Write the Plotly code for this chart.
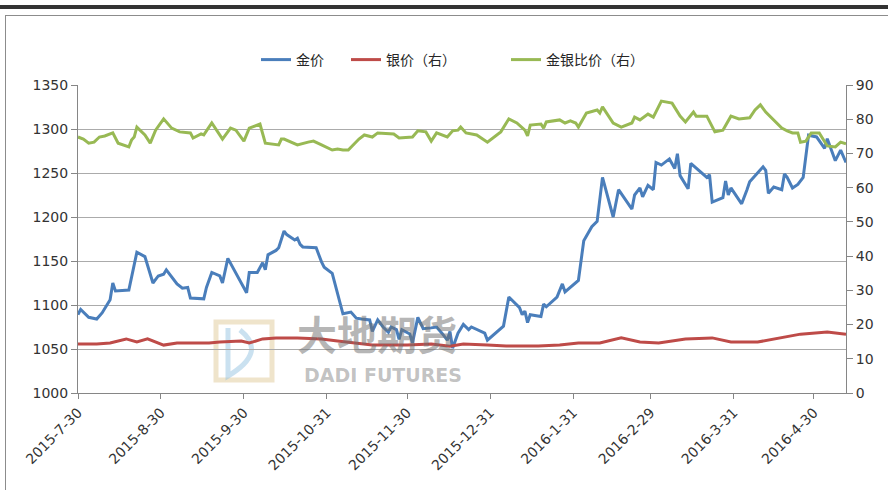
import plotly.graph_objects as go

# 金价 (left axis)
gold_dates = [
    "2015-07-30", "2015-07-31", "2015-08-03", "2015-08-06", "2015-08-08", "2015-08-11", "2015-08-12",
    "2015-08-13", "2015-08-18", "2015-08-20", "2015-08-21", "2015-08-24", "2015-08-27", "2015-08-29",
    "2015-08-31", "2015-09-01", "2015-09-05", "2015-09-07", "2015-09-09", "2015-09-10", "2015-09-15",
    "2015-09-16", "2015-09-18", "2015-09-21", "2015-09-22", "2015-09-24", "2015-09-28", "2015-10-01",
    "2015-10-02", "2015-10-05", "2015-10-07", "2015-10-08", "2015-10-09", "2015-10-12", "2015-10-13",
    "2015-10-15", "2015-10-16", "2015-10-19", "2015-10-20", "2015-10-21", "2015-10-22", "2015-10-27",
    "2015-10-29", "2015-10-30", "2015-11-02", "2015-11-04", "2015-11-05", "2015-11-06", "2015-11-09",
    "2015-11-11", "2015-11-13", "2015-11-16", "2015-11-17", "2015-11-19", "2015-11-21", "2015-11-23",
    "2015-11-24", "2015-11-26", "2015-11-27", "2015-11-28", "2015-12-01", "2015-12-02", "2015-12-04",
    "2015-12-06", "2015-12-09", "2015-12-11", "2015-12-13", "2015-12-15", "2015-12-16", "2015-12-17",
    "2015-12-19", "2015-12-21", "2015-12-23", "2015-12-24", "2015-12-29", "2015-12-30", "2016-01-05",
    "2016-01-07", "2016-01-11", "2016-01-12", "2016-01-13", "2016-01-14", "2016-01-15", "2016-01-19",
    "2016-01-20", "2016-01-21", "2016-01-25", "2016-01-27", "2016-01-28", "2016-02-02", "2016-02-04",
    "2016-02-07", "2016-02-09", "2016-02-11", "2016-02-15", "2016-02-17", "2016-02-22", "2016-02-23",
    "2016-02-25", "2016-02-26", "2016-02-28", "2016-03-01", "2016-03-02", "2016-03-04", "2016-03-07",
    "2016-03-09", "2016-03-10", "2016-03-11", "2016-03-14", "2016-03-15", "2016-03-21", "2016-03-22",
    "2016-03-23", "2016-03-27", "2016-03-28", "2016-03-29", "2016-03-30", "2016-04-03", "2016-04-05",
    "2016-04-06", "2016-04-11", "2016-04-12", "2016-04-13", "2016-04-15", "2016-04-18", "2016-04-19",
    "2016-04-20", "2016-04-22", "2016-04-24", "2016-04-26", "2016-04-28", "2016-05-01", "2016-05-04",
    "2016-05-05", "2016-05-08", "2016-05-10", "2016-05-12",
]
gold = [
    1089, 1095, 1086, 1084, 1091, 1106, 1125,
    1116, 1117, 1145, 1160, 1155, 1125, 1133,
    1135, 1140, 1124, 1119, 1120, 1108, 1107,
    1120, 1137, 1133, 1125, 1153, 1131, 1114,
    1137, 1137, 1148, 1140, 1157, 1162, 1165,
    1184, 1180, 1174, 1176, 1169, 1166, 1165,
    1149, 1143, 1136, 1114, 1103, 1090, 1092,
    1085, 1084, 1083, 1070, 1083, 1075, 1069,
    1075, 1072, 1061, 1072, 1067, 1057, 1086,
    1073, 1074, 1075, 1068, 1060, 1070, 1051,
    1068, 1078, 1072, 1075, 1068, 1060, 1076,
    1109, 1097, 1089, 1093, 1080, 1089, 1087,
    1101, 1098, 1109, 1124, 1115, 1128, 1173,
    1189, 1195, 1245, 1200, 1231, 1209, 1225,
    1233, 1223, 1236, 1231, 1262, 1259, 1266,
    1255, 1272, 1247, 1232, 1261, 1245, 1248,
    1217, 1222, 1241, 1225, 1233, 1215, 1231,
    1240, 1257, 1253, 1227, 1234, 1231, 1249,
    1245, 1233, 1237, 1245, 1293, 1291, 1278,
    1289, 1264, 1276, 1262,
]

# 银价（右）
silver_dates = [
    "2015-07-30", "2015-08-06", "2015-08-11", "2015-08-17", "2015-08-21", "2015-08-25", "2015-08-31",
    "2015-09-05", "2015-09-17", "2015-09-21", "2015-09-29", "2015-10-02", "2015-10-07", "2015-10-12",
    "2015-10-20", "2015-10-29", "2015-11-04", "2015-11-11", "2015-11-17", "2015-11-30", "2015-12-09",
    "2015-12-16", "2015-12-21", "2015-12-30", "2016-01-06", "2016-01-18", "2016-01-26", "2016-02-02",
    "2016-02-10", "2016-02-18", "2016-02-25", "2016-03-03", "2016-03-13", "2016-03-23", "2016-03-30",
    "2016-04-09", "2016-04-20", "2016-04-25", "2016-05-05", "2016-05-12",
]
silver = [
    14.3, 14.3, 14.6, 15.8, 14.9, 15.8, 14.0,
    14.6, 14.6, 14.9, 15.2, 14.6, 15.8, 16.1,
    16.1, 15.8, 15.2, 14.6, 14.0, 14.0, 14.3,
    13.7, 14.3, 14.0, 13.7, 13.7, 14.0, 14.6,
    14.6, 16.1, 14.9, 14.6, 15.8, 16.1, 14.9,
    14.9, 16.4, 17.2, 17.8, 17.2,
]

# 金银比价（右）
ratio_dates = [
    "2015-07-30", "2015-08-01", "2015-08-03", "2015-08-05", "2015-08-07", "2015-08-09", "2015-08-12",
    "2015-08-14", "2015-08-18", "2015-08-19", "2015-08-20", "2015-08-21", "2015-08-24", "2015-08-26",
    "2015-08-28", "2015-08-31", "2015-09-03", "2015-09-06", "2015-09-10", "2015-09-11", "2015-09-14",
    "2015-09-15", "2015-09-18", "2015-09-22", "2015-09-25", "2015-09-27", "2015-09-30", "2015-10-02",
    "2015-10-06", "2015-10-08", "2015-10-13", "2015-10-14", "2015-10-15", "2015-10-20", "2015-10-24",
    "2015-10-26", "2015-10-29", "2015-11-02", "2015-11-04", "2015-11-06", "2015-11-08", "2015-11-12",
    "2015-11-14", "2015-11-17", "2015-11-19", "2015-11-25", "2015-11-27", "2015-12-02", "2015-12-04",
    "2015-12-07", "2015-12-09", "2015-12-11", "2015-12-15", "2015-12-17", "2015-12-19", "2015-12-20",
    "2015-12-22", "2015-12-26", "2015-12-30", "2016-01-04", "2016-01-07", "2016-01-10", "2016-01-13",
    "2016-01-14", "2016-01-15", "2016-01-19", "2016-01-20", "2016-01-21", "2016-01-26", "2016-01-28",
    "2016-01-30", "2016-02-01", "2016-02-02", "2016-02-05", "2016-02-09", "2016-02-10", "2016-02-11",
    "2016-02-15", "2016-02-18", "2016-02-22", "2016-02-23", "2016-02-25", "2016-02-28", "2016-03-01",
    "2016-03-04", "2016-03-08", "2016-03-11", "2016-03-13", "2016-03-16", "2016-03-17", "2016-03-21",
    "2016-03-24", "2016-03-27", "2016-03-30", "2016-04-02", "2016-04-06", "2016-04-08", "2016-04-10",
    "2016-04-12", "2016-04-14", "2016-04-18", "2016-04-20", "2016-04-22", "2016-04-24", "2016-04-25",
    "2016-04-27", "2016-04-29", "2016-05-02", "2016-05-05", "2016-05-08", "2016-05-10", "2016-05-12",
]
ratio = [
    74.8, 74.2, 73.0, 73.3, 74.8, 75.1, 76.0,
    73.0, 71.9, 73.9, 74.8, 77.7, 75.4, 73.0,
    76.8, 80.1, 77.4, 76.3, 76.0, 74.5, 75.7,
    75.4, 78.9, 74.2, 77.4, 76.8, 73.6, 77.4,
    78.6, 73.0, 72.5, 74.2, 74.2, 72.5, 73.3,
    73.6, 72.5, 71.0, 71.3, 71.0, 71.0, 74.2,
    75.4, 74.8, 76.0, 75.7, 74.5, 74.8, 76.6,
    76.3, 73.6, 76.0, 74.8, 76.6, 76.8, 77.7,
    76.0, 75.4, 73.3, 76.3, 80.1, 78.9, 76.8,
    75.1, 78.3, 78.6, 77.4, 79.2, 79.8, 78.9,
    79.5, 78.9, 77.7, 81.8, 82.7, 81.8, 83.6,
    78.9, 77.7, 78.9, 80.6, 79.8, 81.5, 80.6,
    85.3, 84.7, 80.9, 79.2, 82.1, 80.9, 80.9,
    76.3, 76.8, 80.9, 80.1, 80.4, 82.7, 84.2,
    82.1, 80.6, 77.4, 76.6, 76.0, 76.0, 73.3,
    73.6, 76.0, 76.0, 72.2, 71.9, 73.3, 72.8,
]

tick_dates = ["2015-07-30", "2015-08-30", "2015-09-30", "2015-10-31", "2015-11-30",
              "2015-12-31", "2016-01-31", "2016-02-29", "2016-03-31", "2016-04-30"]
tick_text = ["2015-7-30", "2015-8-30", "2015-9-30", "2015-10-31", "2015-11-30",
             "2015-12-31", "2016-1-31", "2016-2-29", "2016-3-31", "2016-4-30"]

font_family = "DejaVu Sans, Noto Sans CJK SC, sans-serif"

# plot area in page pixels: x 78..846, y 85..393 (body margin removed below)
FIG_W, FIG_H = 888, 495
L, T, W, H = 78, 85, 768, 308


def px_x(p):
    return (p - L) / W


def px_y(p):
    return (T + H - p) / H


fig = go.Figure()

fig.add_trace(go.Scatter(x=gold_dates, y=gold, mode="lines", name="金价",
                         line=dict(color="#4A7EBB", width=3), legend="legend"))
fig.add_trace(go.Scatter(x=silver_dates, y=silver, mode="lines", name="银价（右）",
                         yaxis="y2", line=dict(color="#BE4B48", width=3), legend="legend2"))
fig.add_trace(go.Scatter(x=ratio_dates, y=ratio, mode="lines", name="金银比价（右）",
                         yaxis="y2", line=dict(color="#98B954", width=3), legend="legend3"))

shapes = [
    # dark bar on top of the page
    dict(type="line", xref="paper", yref="paper", x0=px_x(0), x1=px_x(888),
         y0=px_y(7), y1=px_y(7), line=dict(color="#333333", width=4)),
    # frame of the chart box
    dict(type="line", xref="paper", yref="paper", x0=px_x(5), x1=px_x(888),
         y0=px_y(15.5), y1=px_y(15.5), line=dict(color="#8c8c8c", width=1)),
    dict(type="line", xref="paper", yref="paper", x0=px_x(5.5), x1=px_x(5.5),
         y0=px_y(15.5), y1=px_y(490), line=dict(color="#8c8c8c", width=1)),
    # watermark logo
    dict(type="rect", xref="paper", yref="paper", x0=px_x(216), x1=px_x(272),
         y0=px_y(380), y1=px_y(322), line=dict(color="rgba(225,205,160,0.55)", width=5),
         layer="below"),
    dict(type="path", xref="paper", yref="paper",
         path="M {} {} L {} {} Q {} {} {} {}".format(px_x(228), px_y(328), px_x(228), px_y(376),
                                                      px_x(268), px_y(352), px_x(240), px_y(330)),
         line=dict(color="rgba(150,195,225,0.5)", width=5), layer="below"),
]

annotations = [
    dict(text="<b>大地期货</b>", xref="paper", yref="paper", x=px_x(377), y=px_y(333),
         xanchor="center", yanchor="middle", showarrow=False,
         font=dict(family="Noto Sans CJK SC", size=40, color="rgba(110,110,110,0.5)")),
    dict(text="<b>DADI FUTURES</b>", xref="paper", yref="paper", x=px_x(383), y=px_y(375),
         xanchor="center", yanchor="middle", showarrow=False,
         font=dict(family="DejaVu Sans", size=19, color="rgba(120,120,120,0.45)")),
]

legend_style = dict(orientation="h", xanchor="left", yanchor="middle", y=px_y(60),
                    font=dict(size=14, color="#262626"), itemwidth=30,
                    bgcolor="rgba(0,0,0,0)")

fig.update_layout(
    width=FIG_W, height=FIG_H,
    margin=dict(l=L, r=FIG_W - L - W, t=T, b=FIG_H - T - H),
    paper_bgcolor="white", plot_bgcolor="white",
    font=dict(family=font_family, size=14, color="#333333"),
    showlegend=True,
    legend=dict(legend_style, x=px_x(256)),
    legend2=dict(legend_style, x=px_x(346)),
    legend3=dict(legend_style, x=px_x(506)),
    xaxis=dict(type="date", range=["2015-07-30", "2016-05-12"],
               tickvals=tick_dates, ticktext=tick_text, tickangle=-45,
               showline=True, linecolor="#868686", ticks="outside", ticklen=5,
               tickcolor="#868686", showgrid=False, zeroline=False,
               tickfont=dict(size=14)),
    yaxis=dict(range=[1000, 1350], dtick=50, showline=True, linecolor="#868686",
               ticks="outside", ticklen=6, tickcolor="#868686",
               showgrid=True, gridcolor="#ababab", gridwidth=1, zeroline=False,
               tickfont=dict(size=14)),
    yaxis2=dict(range=[0, 90], dtick=10, overlaying="y", side="right", showline=True,
                linecolor="#868686", ticks="outside", ticklen=6, tickcolor="#868686",
                showgrid=False, zeroline=False, tickfont=dict(size=14)),
    shapes=shapes,
    annotations=annotations,
)

# drop the browser's default 8px body margin so the figure fills the window
fig.write_html("out.html", config={"displayModeBar": False},
               post_script="document.body.style.margin = '0';")
